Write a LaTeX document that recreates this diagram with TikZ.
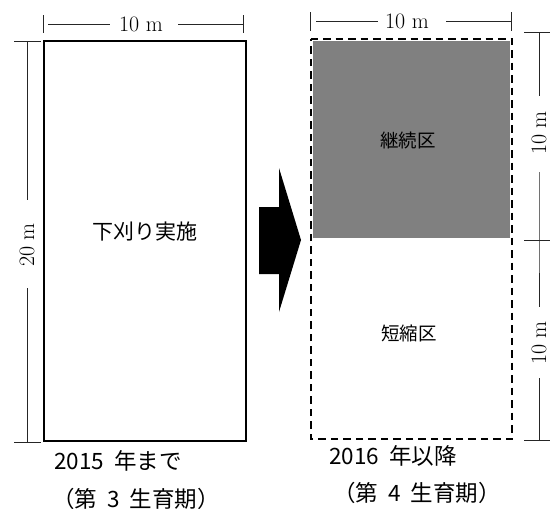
\documentclass[tikz,border=0pt]{standalone}
\usepackage{fontspec}
\newfontfamily\jp{Noto Sans CJK JP}
\newcommand{\hsp}{\hspace{0.45em}}
\begin{document}
\begin{tikzpicture}[x=1pt,y=-1pt,
  dimline/.style={draw=black!85,line width=0.9pt},
  dimtext/.style={font=\fontsize{22}{22}\selectfont,inner sep=0pt},
  jplabel/.style={font=\jp\fontsize{18.5}{18.5}\selectfont,inner sep=0pt},
  jpcaption/.style={font=\jp\fontsize{22.5}{22.5}\selectfont,inner sep=0pt,anchor=west},
  plotbox/.style={draw=black,line width=2pt},
  dashbox/.style={draw=black,line width=2pt,dash pattern=on 7.5pt off 5pt}]
\useasboundingbox (0,0) rectangle (550,509);
% left plot
\node[plotbox,minimum width=202.5pt,minimum height=400pt,inner sep=0pt] (left) at (144.75,241) {};
\node[jplabel,font=\jp\fontsize{21}{21}\selectfont] (lefttext) at (145,232) {下刈り実施};
% right plot
\fill[black!50] (313,41) rectangle (510,238);
\coordinate (rtl) at (310.5,39);
\coordinate (rtr) at (512,39);
\coordinate (rbr) at (512,438.5);
\coordinate (rbl) at (310.5,438.5);
\draw[dashbox] (rtl) -- (rtr) -- (rbr) -- (rbl) -- cycle;
\node[jplabel] (cont) at (408,140) {継続区};
\node[jplabel] (short) at (409,333) {短縮区};
% left top dimension
\coordinate (lt1a) at (43.5,15); \coordinate (lt1b) at (43.5,33);
\coordinate (lt2a) at (243,15); \coordinate (lt2b) at (243,33);
\draw[dimline] (lt1a) -- (lt1b);
\draw[dimline] (lt2a) -- (lt2b);
\node[dimtext] (ltop) at (141,24) {10 m};
\coordinate (lta) at (48,24); \coordinate (ltb) at (110,24);
\coordinate (ltc) at (178,24); \coordinate (ltd) at (243,24);
\draw[dimline] (lta) -- (ltb);
\draw[dimline] (ltc) -- (ltd);
% left vertical dimension
\coordinate (lv1a) at (14,41); \coordinate (lv1b) at (41,41);
\coordinate (lv2a) at (14,442); \coordinate (lv2b) at (41,442);
\draw[dimline] (lv1a) -- (lv1b);
\draw[dimline] (lv2a) -- (lv2b);
\node[dimtext,rotate=90] (lside) at (27,245) {20 m};
\coordinate (lva) at (27,41); \coordinate (lvb) at (27,200);
\coordinate (lvc) at (27,288); \coordinate (lvd) at (27,442);
\draw[dimline] (lva) -- (lvb);
\draw[dimline] (lvc) -- (lvd);
% right top dimension
\coordinate (rt1a) at (310.5,12); \coordinate (rt1b) at (310.5,31);
\coordinate (rt2a) at (511,12); \coordinate (rt2b) at (511,31);
\draw[dimline] (rt1a) -- (rt1b);
\draw[dimline] (rt2a) -- (rt2b);
\node[dimtext] (rtop) at (407,21) {10 m};
\coordinate (rta) at (316,21); \coordinate (rtb) at (378,21);
\coordinate (rtc) at (446,21); \coordinate (rtd) at (511,21);
\draw[dimline] (rta) -- (rtb);
\draw[dimline] (rtc) -- (rtd);
% right vertical dimension
\coordinate (rv1a) at (524,32); \coordinate (rv1b) at (550,32);
\coordinate (rv2a) at (524,240); \coordinate (rv2b) at (550,240);
\coordinate (rv3a) at (524,440); \coordinate (rv3b) at (550,440);
\draw[dimline] (rv1a) -- (rv1b);
\draw[dimline] (rv2a) -- (rv2b);
\draw[dimline] (rv3a) -- (rv3b);
\node[dimtext,rotate=90] (rside1) at (539,133) {10 m};
\node[dimtext,rotate=90] (rside2) at (539,343) {10 m};
\coordinate (rva) at (539,32); \coordinate (rvb) at (539,96);
\coordinate (rvc) at (539,172); \coordinate (rvd) at (539,240);
\coordinate (rve) at (539,307); \coordinate (rvf) at (539,378);
\coordinate (rvg) at (539,440);
\draw[dimline] (rva) -- (rvb);
\draw[dimline] (rvc) -- (rvd) -- (rve);
\draw[dimline] (rvf) -- (rvg);
% arrow
\fill[black] (259,207) -- (279,207) -- (279,168) -- (301,240) -- (279,312) -- (279,274) -- (259,274) -- cycle;
% captions
\node[jpcaption] (cap1) at (54,461) {2015\hsp 年まで};
\node[jpcaption] (cap2) at (52,499) {（第\hsp 3\hsp 生育期）};
\node[jpcaption] (cap3) at (329,456) {2016\hsp 年以降};
\node[jpcaption] (cap4) at (333,493) {（第\hsp 4\hsp 生育期）};
\end{tikzpicture}
\end{document}
